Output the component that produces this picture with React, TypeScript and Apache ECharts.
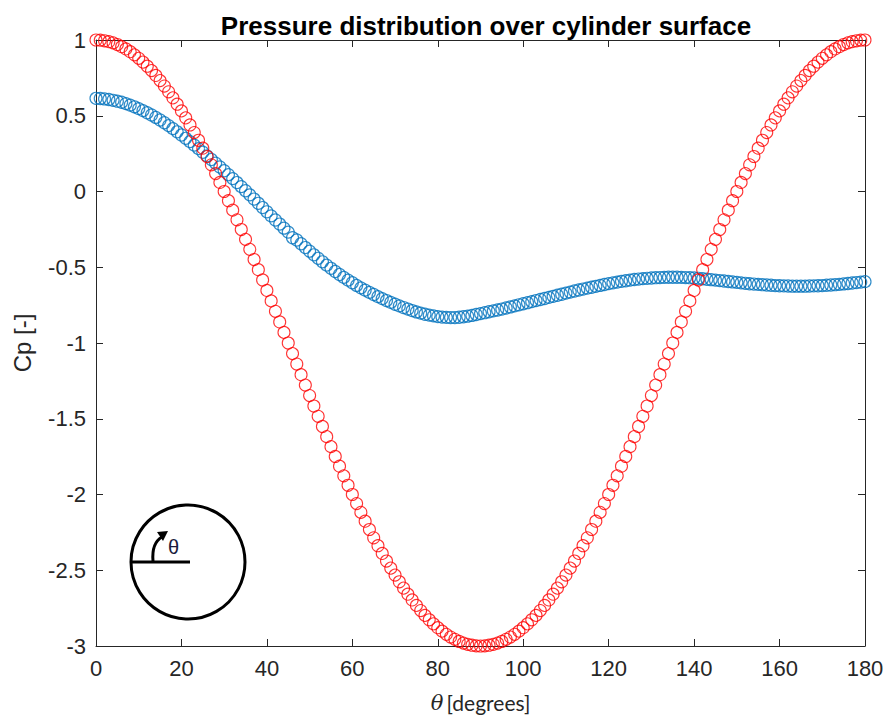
import React, { useEffect, useRef } from "react";
import * as echarts from "echarts";

// theta in degrees: index i of each array corresponds to THETA_START + i * THETA_STEP
const THETA_START = 0;
const THETA_STEP = 1;

// Theoretical (potential flow) Cp, read from the red circles
const cpTheory = [
  1.0, 0.999, 0.995, 0.989, 0.981, 0.97, 0.956, 0.941, 0.923, 0.902,
  0.879, 0.854, 0.827, 0.798, 0.766, 0.732, 0.696, 0.658, 0.618, 0.576,
  0.532, 0.486, 0.439, 0.389, 0.338, 0.286, 0.231, 0.176, 0.118, 0.06,
  0.0, -0.061, -0.123, -0.187, -0.251, -0.316, -0.382, -0.449, -0.516, -0.584,
  -0.653, -0.722, -0.791, -0.861, -0.93, -1.0, -1.07, -1.139, -1.209, -1.278,
  -1.347, -1.416, -1.484, -1.551, -1.618, -1.684, -1.749, -1.813, -1.877, -1.939,
  -2.0, -2.06, -2.118, -2.176, -2.231, -2.286, -2.338, -2.389, -2.439, -2.486,
  -2.532, -2.576, -2.618, -2.658, -2.696, -2.732, -2.766, -2.798, -2.827, -2.854,
  -2.879, -2.902, -2.923, -2.941, -2.956, -2.97, -2.981, -2.989, -2.995, -2.999,
  -3.0, -2.999, -2.995, -2.989, -2.981, -2.97, -2.956, -2.941, -2.923, -2.902,
  -2.879, -2.854, -2.827, -2.798, -2.766, -2.732, -2.696, -2.658, -2.618, -2.576,
  -2.532, -2.486, -2.439, -2.389, -2.338, -2.286, -2.231, -2.176, -2.118, -2.06,
  -2.0, -1.939, -1.877, -1.813, -1.749, -1.684, -1.618, -1.551, -1.484, -1.416,
  -1.347, -1.278, -1.209, -1.139, -1.07, -1.0, -0.93, -0.861, -0.791, -0.722,
  -0.653, -0.584, -0.516, -0.449, -0.382, -0.316, -0.251, -0.187, -0.123, -0.061,
  0.0, 0.06, 0.118, 0.176, 0.231, 0.286, 0.338, 0.389, 0.439, 0.486,
  0.532, 0.576, 0.618, 0.658, 0.696, 0.732, 0.766, 0.798, 0.827, 0.854,
  0.879, 0.902, 0.923, 0.941, 0.956, 0.97, 0.981, 0.989, 0.995, 0.999,
  1.0,
];

// Measured Cp, read from the blue circles
const cpMeasured = [
  0.615, 0.614, 0.611, 0.607, 0.602, 0.596, 0.589, 0.58, 0.57, 0.559,
  0.547, 0.534, 0.52, 0.505, 0.489, 0.472, 0.454, 0.435, 0.415, 0.394,
  0.373, 0.351, 0.329, 0.306, 0.283, 0.259, 0.235, 0.211, 0.187, 0.162,
  0.137, 0.111, 0.085, 0.059, 0.032, 0.005, -0.022, -0.05, -0.078, -0.106,
  -0.134, -0.161, -0.188, -0.215, -0.242, -0.268, -0.305, -0.32, -0.345, -0.37,
  -0.394, -0.418, -0.441, -0.464, -0.486, -0.507, -0.528, -0.548, -0.567, -0.585,
  -0.602, -0.62, -0.636, -0.651, -0.666, -0.68, -0.694, -0.707, -0.72, -0.732,
  -0.744, -0.755, -0.766, -0.776, -0.786, -0.795, -0.803, -0.81, -0.816, -0.821,
  -0.826, -0.829, -0.831, -0.832, -0.832, -0.83, -0.827, -0.823, -0.818, -0.812,
  -0.806, -0.8, -0.794, -0.788, -0.782, -0.776, -0.769, -0.762, -0.755, -0.748,
  -0.741, -0.734, -0.727, -0.72, -0.713, -0.706, -0.699, -0.692, -0.685, -0.678,
  -0.671, -0.664, -0.657, -0.65, -0.644, -0.638, -0.632, -0.626, -0.62, -0.614,
  -0.608, -0.603, -0.598, -0.593, -0.589, -0.585, -0.581, -0.578, -0.575, -0.573,
  -0.571, -0.569, -0.568, -0.567, -0.566, -0.566, -0.566, -0.567, -0.568, -0.569,
  -0.571, -0.573, -0.576, -0.579, -0.582, -0.585, -0.588, -0.591, -0.594, -0.597,
  -0.6, -0.603, -0.606, -0.609, -0.611, -0.613, -0.615, -0.617, -0.619, -0.621,
  -0.622, -0.623, -0.624, -0.625, -0.625, -0.625, -0.625, -0.624, -0.623, -0.622,
  -0.621, -0.619, -0.617, -0.615, -0.613, -0.61, -0.607, -0.604, -0.601, -0.598,
  -0.595,
];

const X_MIN = 0;
const X_MAX = 180;
const X_INTERVAL = 20;
const Y_MIN = -3;
const Y_MAX = 1;
const Y_INTERVAL = 0.5;

const TITLE = "Pressure distribution over cylinder surface";
const Y_NAME = "Cp [-]";

const AXIS_COLOR = "#262626";
const BLUE = "#0072BD";
const RED = "#FF0000";

export default function App() {
  const ref = useRef<HTMLDivElement>(null);

  useEffect(() => {
    document.body.style.margin = "0";
    if (!ref.current) return;
    const chart = echarts.init(ref.current, undefined, { renderer: "svg" });

    const toPairs = (arr: number[]) =>
      arr.map((v, i) => [THETA_START + i * THETA_STEP, v]);

    const axisCommon = {
      axisLine: { show: true, onZero: false, lineStyle: { color: AXIS_COLOR, width: 1 } },
      axisTick: { show: true, inside: true, length: 7, lineStyle: { color: AXIS_COLOR } },
      splitLine: { show: false },
    };

    chart.setOption({
      animation: false,
      backgroundColor: "#ffffff",
      title: {
        text: TITLE,
        left: 481,
        textAlign: "center",
        top: 8,
        textStyle: {
          fontFamily: "Liberation Sans",
          fontWeight: "bold",
          fontSize: 26,
          color: "#000000",
        },
      },
      grid: { left: 96, right: 22, top: 40, bottom: 71, containLabel: false },
      xAxis: [
        {
          type: "value",
          min: X_MIN,
          max: X_MAX,
          interval: X_INTERVAL,
          position: "bottom",
          ...axisCommon,
          axisLabel: {
            color: AXIS_COLOR,
            fontFamily: "Liberation Sans",
            fontSize: 22,
            margin: 11,
          },
          name: "{t|θ} {d|[degrees]}",
          nameLocation: "middle",
          nameGap: 46,
          nameTextStyle: {
            rich: {
              t: {
                fontFamily: "DejaVu Serif",
                fontStyle: "italic",
                fontSize: 21,
                color: "#262626",
              },
              d: {
                fontFamily: "Lato",
                fontSize: 21,
                color: "#262626",
              },
            },
          },
        },
        {
          type: "value",
          min: X_MIN,
          max: X_MAX,
          interval: X_INTERVAL,
          position: "top",
          ...axisCommon,
          axisLabel: { show: false },
        },
      ],
      yAxis: [
        {
          type: "value",
          min: Y_MIN,
          max: Y_MAX,
          interval: Y_INTERVAL,
          position: "left",
          ...axisCommon,
          axisLabel: {
            color: AXIS_COLOR,
            fontFamily: "Liberation Sans",
            fontSize: 22,
            margin: 10,
          },
          name: Y_NAME,
          nameLocation: "middle",
          nameGap: 62,
          nameTextStyle: {
            fontFamily: "Liberation Sans",
            fontSize: 24,
            color: "#262626",
          },
        },
        {
          type: "value",
          min: Y_MIN,
          max: Y_MAX,
          interval: Y_INTERVAL,
          position: "right",
          ...axisCommon,
          axisLabel: { show: false },
        },
      ],
      series: [
        {
          name: "Measured",
          type: "scatter",
          xAxisIndex: 0,
          yAxisIndex: 0,
          symbol: "circle",
          symbolSize: 12,
          itemStyle: { color: "rgba(0,0,0,0)", borderColor: BLUE, borderWidth: 1.2 },
          data: toPairs(cpMeasured),
        },
        {
          name: "Theory",
          type: "scatter",
          xAxisIndex: 0,
          yAxisIndex: 0,
          symbol: "circle",
          symbolSize: 12,
          itemStyle: { color: "rgba(0,0,0,0)", borderColor: RED, borderWidth: 1.1 },
          data: toPairs(cpTheory),
        },
      ],
      graphic: [
        {
          type: "circle",
          shape: { cx: 188, cy: 562, r: 57 },
          style: { fill: "none", stroke: "#000000", lineWidth: 3 },
          z: 10,
        },
        {
          type: "line",
          shape: { x1: 131, y1: 562, x2: 190, y2: 562 },
          style: { stroke: "#000000", lineWidth: 3 },
          z: 10,
        },
        {
          type: "bezierCurve",
          shape: { x1: 153, y1: 561, cpx1: 152, cpy1: 549, cpx2: 155, cpy2: 541, x2: 162, y2: 537 },
          style: { stroke: "#000000", lineWidth: 3, fill: "none" },
          z: 10,
        },
        {
          type: "polygon",
          shape: { points: [[157, 532], [168, 531], [163, 541]] },
          style: { fill: "#000000" },
          z: 10,
        },
        {
          type: "text",
          x: 168,
          y: 537,
          style: {
            text: "θ",
            fontFamily: "Liberation Sans",
            fontSize: 20,
            fill: "#1a1a3c",
          },
          z: 10,
        },
      ],
    });

    return () => chart.dispose();
  }, []);

  return <div ref={ref} style={{ width: 887, height: 718 }} />;
}
